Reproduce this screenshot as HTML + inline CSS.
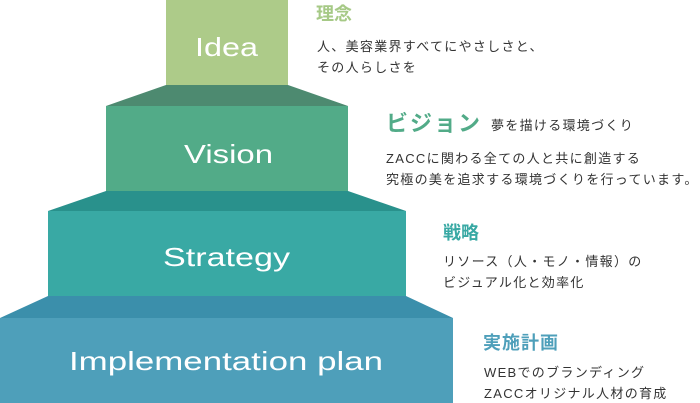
<!DOCTYPE html>
<html><head><meta charset="utf-8"><style>
html,body{margin:0;padding:0;background:#fff;width:700px;height:403px;overflow:hidden}
svg{display:block}
.lbl{font-family:"Liberation Sans",sans-serif;font-size:26px;fill:#fff;font-weight:300}
.h{font-family:"Liberation Sans","Noto Sans CJK JP",sans-serif;font-weight:bold}
.b{font-family:"Liberation Sans","Noto Sans CJK JP",sans-serif;font-size:13px;letter-spacing:1.3px;fill:#333}
</style></head><body>
<svg width="700" height="403" viewBox="0 0 700 403">
<rect x="166" y="0" width="122" height="85" fill="#adcb89"/>
<polygon points="166,85 288,85 348,106 106,106" fill="#4d8a70"/>
<rect x="106" y="106" width="242" height="85" fill="#52ab88"/>
<polygon points="106,191 348,191 406,211 48,211" fill="#29918c"/>
<rect x="48" y="211" width="358" height="85" fill="#39a9a4"/>
<polygon points="48,296 406,296 453,318 0,318" fill="#3b8fab"/>
<rect x="0" y="318" width="453" height="85" fill="#4e9fba"/>
<text class="lbl" x="195" y="56" textLength="63" lengthAdjust="spacingAndGlyphs">Idea</text>
<text class="lbl" x="184" y="163" textLength="89" lengthAdjust="spacingAndGlyphs">Vision</text>
<text class="lbl" x="163" y="266" textLength="127" lengthAdjust="spacingAndGlyphs">Strategy</text>
<text class="lbl" x="69" y="370" textLength="314" lengthAdjust="spacingAndGlyphs">Implementation plan</text>

<text class="h" x="316" y="20" font-size="18" fill="#a6c986">理念</text>
<text class="b" x="317" y="51">人、美容業界すべてにやさしさと、</text>
<text class="b" x="317" y="72">その人らしさを</text>

<text class="h" x="386" y="131" font-size="22" fill="#52ab88" letter-spacing="2">ビジョン</text>
<text class="b" x="491" y="130">夢を描ける環境づくり</text>
<text class="b" x="386" y="163">ZACCに関わる全ての人と共に創造する</text>
<text class="b" x="386" y="184">究極の美を追求する環境づくりを行っています。</text>

<text class="h" x="443" y="239" font-size="18" fill="#39a9a4">戦略</text>
<text class="b" x="443" y="266">リソース（人・モノ・情報）の</text>
<text class="b" x="443" y="287">ビジュアル化と効率化</text>

<text class="h" x="483" y="349" font-size="18" fill="#4e9fba" letter-spacing="1">実施計画</text>
<text class="b" x="484" y="377">WEBでのブランディング</text>
<text class="b" x="484" y="398">ZACCオリジナル人材の育成</text>
</svg>
</body></html>
